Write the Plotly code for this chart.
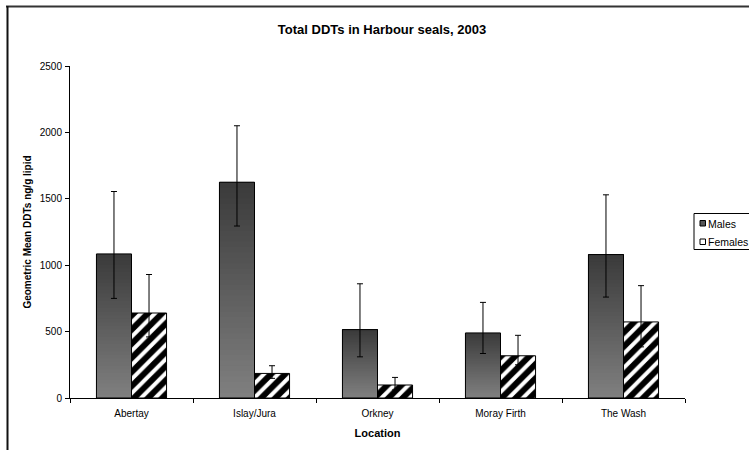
import plotly.graph_objects as go

# ---- data ----
locations = ["Abertay", "Islay/Jura", "Orkney", "Moray Firth", "The Wash"]
male_mean = [1085, 1625, 515, 490, 1080]
male_upper = [1555, 2050, 860, 720, 1530]
male_lower = [750, 1295, 310, 335, 760]
female_mean = [640, 185, 98, 318, 573]
female_upper = [930, 243, 155, 472, 846]
female_lower = [460, 148, 60, 250, 385]
y_ticks = [0, 500, 1000, 1500, 2000, 2500]
series_names = ["Males", "Females"]

FONT = "Liberation Sans, Arial, sans-serif"

fig = go.Figure()

# Male bars: vertical gradient (light at bottom, dark at top) built from
# overlapping layers, each starting higher and drawn over the previous one
N = 40
c_bottom = 128
c_top = 58
for i in range(N):
    t = (i + 0.5) / N
    c = int(round(c_bottom + (c_top - c_bottom) * t))
    fig.add_trace(go.Bar(
        x=locations,
        y=[v * (N - i) / N for v in male_mean],
        base=[v * i / N for v in male_mean],
        offsetgroup="m",
        marker=dict(color=f"rgb({c},{c},{c})", line=dict(width=0)),
        showlegend=False,
        hoverinfo="skip",
    ))

# Male outline + error bars
fig.add_trace(go.Bar(
    x=locations,
    y=male_mean,
    name=series_names[0],
    offsetgroup="m",
    marker=dict(color="rgba(0,0,0,0)", line=dict(color="black", width=1)),
    error_y=dict(type="data", symmetric=False,
                 array=[u - m for u, m in zip(male_upper, male_mean)],
                 arrayminus=[m - l for m, l in zip(male_mean, male_lower)],
                 color="black", thickness=1, width=3),
    showlegend=False,
))

# Female bars: hatched
fig.add_trace(go.Bar(
    x=locations,
    y=female_mean,
    name=series_names[1],
    offsetgroup="f",
    marker=dict(color="white", line=dict(color="black", width=1),
                pattern=dict(shape="/", fgcolor="#000000", bgcolor="white",
                             fgopacity=1, size=10, solidity=0.6)),
    error_y=dict(type="data", symmetric=False,
                 array=[u - m for u, m in zip(female_upper, female_mean)],
                 arrayminus=[m - l for m, l in zip(female_mean, female_lower)],
                 color="black", thickness=1, width=3),
    showlegend=False,
))

# plot area: x 70..685, y 66..398 px
def px_x(p):
    return (p - 70) / 615.0

def px_y(p):
    return (398 - p) / 332.0

shapes = [
    # outer chart frame (cut at right/bottom like the reference)
    dict(type="line", xref="paper", yref="paper", x0=px_x(6), x1=px_x(760),
         y0=px_y(6.5), y1=px_y(6.5), line=dict(color="#333333", width=2)),
    dict(type="line", xref="paper", yref="paper", x0=px_x(7.5), x1=px_x(7.5),
         y0=px_y(6), y1=px_y(460), line=dict(color="#111111", width=2)),
    # legend box
    dict(type="rect", xref="paper", yref="paper", x0=px_x(694), x1=px_x(770),
         y0=px_y(249.5), y1=px_y(213.5), line=dict(color="black", width=1),
         fillcolor="white"),
    dict(type="rect", xref="paper", yref="paper", x0=px_x(700), x1=px_x(705.5),
         y0=px_y(226), y1=px_y(220.5), line=dict(color="black", width=1),
         fillcolor="#555555"),
    dict(type="rect", xref="paper", yref="paper", x0=px_x(700), x1=px_x(705.5),
         y0=px_y(244.5), y1=px_y(239), line=dict(color="black", width=1),
         fillcolor="white"),
]

annotations = [
    dict(text=series_names[0], xref="paper", yref="paper", x=px_x(706), y=px_y(223.5),
         xanchor="left", yanchor="middle", showarrow=False,
         font=dict(family=FONT, size=10.5, color="black")),
    dict(text=series_names[1], xref="paper", yref="paper", x=px_x(706), y=px_y(241.5),
         xanchor="left", yanchor="middle", showarrow=False,
         font=dict(family=FONT, size=10.5, color="black")),
]

fig.update_layout(
    width=749, height=450,
    margin=dict(l=70, r=64, t=66, b=52, autoexpand=False),
    paper_bgcolor="white", plot_bgcolor="white",
    barmode="group", bargap=0.43, bargroupgap=0,
    showlegend=False,
    font=dict(family=FONT, size=10, color="black"),
    title=dict(text="<b>Total DDTs in Harbour seals, 2003</b>",
               x=px_x(382), xref="paper", xanchor="center",
               y=1 - 29.5 / 450, yref="container", yanchor="middle",
               font=dict(family=FONT, size=13, color="black")),
    xaxis=dict(
        showline=True, linecolor="black", linewidth=1,
        ticks="outside", tickson="boundaries", ticklen=4, tickcolor="black",
        tickfont=dict(family=FONT, size=10, color="black"),
        ticklabelstandoff=6,
        showgrid=False, zeroline=False,
        title=dict(text="<b>Location</b>", standoff=11,
                   font=dict(family=FONT, size=11, color="black")),
    ),
    yaxis=dict(
        range=[0, 2500], tickvals=y_ticks,
        showline=True, linecolor="black", linewidth=1,
        ticks="outside", ticklen=4, tickcolor="black",
        tickfont=dict(family=FONT, size=10, color="black"),
        ticklabelstandoff=1,
        showgrid=False, zeroline=False,
        title=dict(text="<b>Geometric Mean DDTs ng/g lipid</b>", standoff=6,
                   font=dict(family=FONT, size=10, color="black")),
    ),
    shapes=shapes,
    annotations=annotations,
)

fig.write_html("out.html", config={"displayModeBar": False},
               post_script="document.body.style.margin='0';")
